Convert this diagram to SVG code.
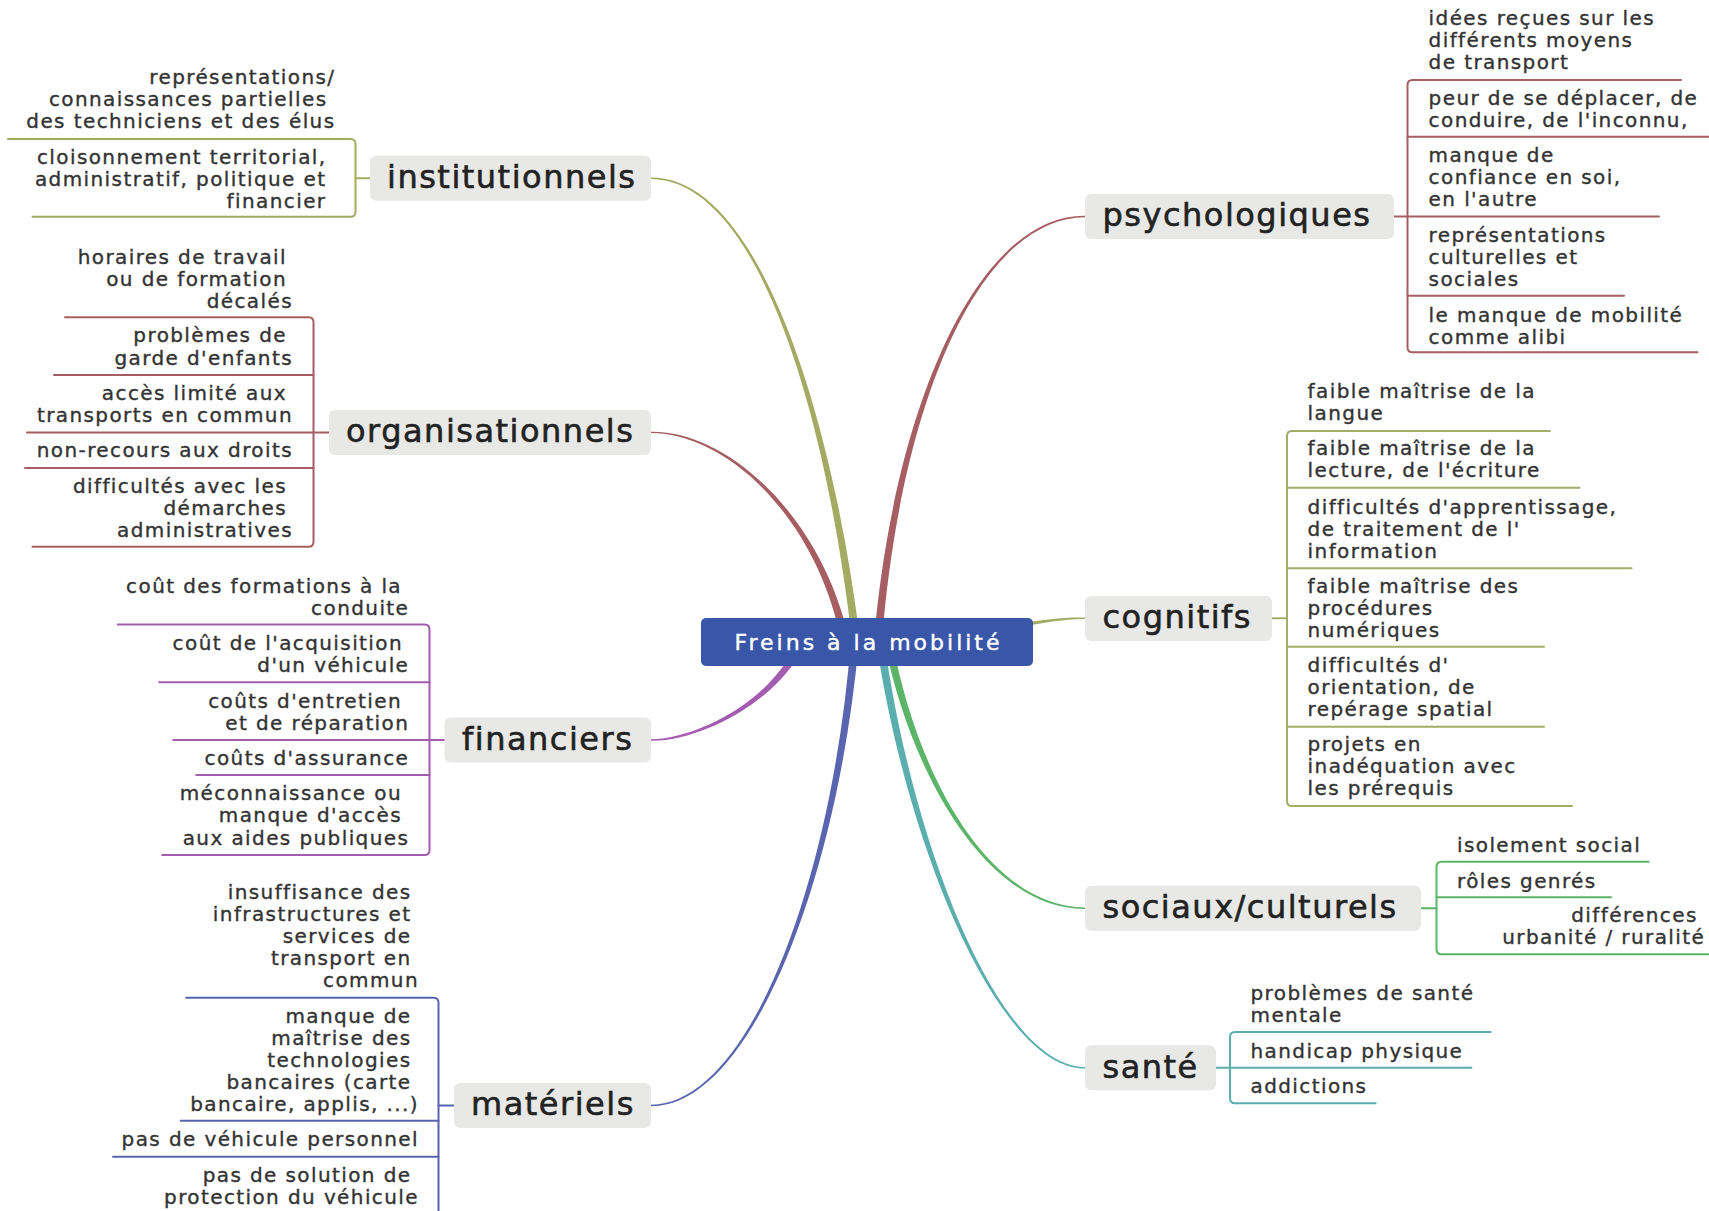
<svg xmlns="http://www.w3.org/2000/svg" width="1709" height="1211" viewBox="0 0 1709 1211">
<style>
text{font-family:"DejaVu Sans",Verdana,sans-serif;}
.s{font-size:20px;letter-spacing:1.4px;fill:#333;stroke:#333;stroke-width:0.35px;}
.e{text-anchor:end;}
.lbl{font-size:32px;letter-spacing:1.5px;fill:#222;stroke:#222;stroke-width:0.6px;}
.nb{fill:#e8e9e6;}
.br{fill:none;stroke-width:2;stroke-linecap:round;}
.olive{stroke:#a3ab63;} .red{stroke:#a65e62;} .pur{stroke:#a45cb0;} .blu{stroke:#5a65b0;}
.teal{stroke:#5aaeae;} .grn{stroke:#5cb468;} .cog{stroke:#a3ad68;}
</style>
<rect width="1709" height="1211" fill="#ffffff"/>
<g id="connectors">
  <path fill="#a3ab63" d="M860,639.5 C832.9,419.7 760,176.6 651,177.6 L651,179 C760,180 827.1,420.3 852,640.5 Z"/>
  <path fill="#a65e62" d="M848.9,639.2 C822.8,519.4 730,430.7 651,431.7 L651,433.1 C730,434.1 817.2,520.6 841.1,640.8 Z"/>
  <path fill="#a65e62" d="M882,640.3 C900.9,400.2 980,218.2 1085,217.2 L1085,215.8 C980,214.8 895.1,399.8 874,639.7 Z"/>
  <path fill="#a3ad68" d="M1020,626.8 C1045,623 1060,619.4 1085,619 L1085,617.6 C1060,617.2 1045,620 1020,623.2 Z"/>
  <path fill="#a45cb0" d="M796.4,643.3 C772.4,698.8 700,738.3 651,739.3 L651,740.7 C700,741.7 777.6,701.2 803.6,646.7 Z"/>
  <path fill="#5a65b0" d="M851,639.7 C832.1,879.8 750,1103.8 651,1104.8 L651,1106.2 C750,1107.2 837.9,880.2 859,640.3 Z"/>
  <path fill="#5aaeae" d="M876,640.6 C907.1,850.4 1000,1069.5 1085,1068.5 L1085,1067.1 C1000,1066.1 912.9,849.6 884,639.4 Z"/>
  <path fill="#5cb468" d="M884.1,640.8 C912.2,780.5 990,909.9 1085,908.9 L1085,907.5 C990,906.5 917.8,779.5 891.9,639.2 Z"/>

  <g class="br olive">
    <path d="M8,139 H350.5 Q355.5,139 355.5,144 V211.7 Q355.5,216.7 350.5,216.7 H32.5"/>
    <path d="M355.5,178.3 H370"/>
  </g>
  <g class="br red">
    <path d="M65,317.3 H308.5 Q313.5,317.3 313.5,322.3 V541.7 Q313.5,546.7 308.5,546.7 H32.5"/>
    <path d="M54,375 H313.5 M27,432.4 H329 M25,468 H313.5"/>
  </g>
  <g class="br pur">
    <path d="M117.8,624.5 H424.5 Q429.5,624.5 429.5,629.5 V850 Q429.5,855 424.5,855 H162.2"/>
    <path d="M159.2,682.3 H429.5 M173.3,740 H444.5 M196.2,775 H429.5"/>
  </g>
  <g class="br blu">
    <path d="M186.2,997.7 H433.5 Q438.5,997.7 438.5,1002.7 V1215"/>
    <path d="M180.7,1120.7 H438.5 M113,1156.7 H438.5 M438.5,1105.5 H454"/>
  </g>
  <g class="br red">
    <path d="M1681,80 H1412.5 Q1407.5,80 1407.5,85 V347.3 Q1407.5,352.3 1412.5,352.3 H1697.5"/>
    <path d="M1407.5,136.7 H1712 M1394,216.5 H1659 M1407.5,295.7 H1624"/>
  </g>
  <g class="br cog">
    <path d="M1550,431 H1292 Q1287,431 1287,436 V801 Q1287,806 1292,806 H1572"/>
    <path d="M1287,487.7 H1579.4 M1287,568.3 H1631.5 M1287,646.7 H1544 M1287,726.7 H1544 M1272,618.3 H1287"/>
  </g>
  <g class="br grn">
    <path d="M1648.6,861.7 H1441.5 Q1436.5,861.7 1436.5,866.7 V949.3 Q1436.5,954.3 1441.5,954.3 H1712"/>
    <path d="M1436.5,897.3 H1611 M1421,908.2 H1436.5"/>
  </g>
  <g class="br teal">
    <path d="M1490.5,1032 H1235 Q1230,1032 1230,1037 V1098.3 Q1230,1103.3 1235,1103.3 H1375.6"/>
    <path d="M1216,1067.8 H1471.4"/>
  </g>
</g>

<g id="central">
  <rect x="701" y="618" width="332" height="48" rx="5" fill="#3a56a8"/>
  <text x="868.5" y="650" text-anchor="middle" font-size="22" letter-spacing="3" fill="#ffffff" stroke="#ffffff" stroke-width="0.4">Freins à la mobilité</text>
</g>

<g id="institutionnels">
  <rect class="nb" x="370" y="155.8" width="281" height="45" rx="6"/>
  <text class="lbl" x="387" y="188">institutionnels</text>
</g>
<g id="organisationnels">
  <rect class="nb" x="329" y="410" width="322" height="45" rx="6"/>
  <text class="lbl" x="346" y="442">organisationnels</text>
</g>
<g id="financiers">
  <rect class="nb" x="444.5" y="717.5" width="206.5" height="45" rx="6"/>
  <text class="lbl" x="462" y="749.5">financiers</text>
</g>
<g id="materiels">
  <rect class="nb" x="454" y="1083" width="197" height="45" rx="6"/>
  <text class="lbl" x="471" y="1115">matériels</text>
</g>
<g id="psychologiques">
  <rect class="nb" x="1085" y="194" width="309" height="45" rx="6"/>
  <text class="lbl" x="1102.5" y="226">psychologiques</text>
</g>
<g id="cognitifs">
  <rect class="nb" x="1085" y="596" width="187" height="45" rx="6"/>
  <text class="lbl" x="1102.5" y="628">cognitifs</text>
</g>
<g id="sociaux">
  <rect class="nb" x="1085" y="885.7" width="336" height="45" rx="6"/>
  <text class="lbl" x="1102.5" y="918">sociaux/culturels</text>
</g>
<g id="sante">
  <rect class="nb" x="1085" y="1045.3" width="131" height="45" rx="6"/>
  <text class="lbl" x="1102.5" y="1077.5">santé</text>
</g>

<g id="inst-1" class="s e"><text x="335.5" y="84">représentations/</text><text x="327.5" y="106">connaissances partielles</text><text x="335.5" y="128">des techniciens et des élus</text></g>
<g id="inst-2" class="s e"><text x="326.5" y="164">cloisonnement territorial,</text><text x="326.5" y="186">administratif, politique et</text><text x="326.5" y="208">financier</text></g>

<g id="org-1" class="s e"><text x="287" y="263.5">horaires de travail</text><text x="287" y="285.5">ou de formation</text><text x="293" y="307.5">décalés</text></g>
<g id="org-2" class="s e"><text x="287" y="342">problèmes de</text><text x="293" y="364.5">garde d'enfants</text></g>
<g id="org-3" class="s e"><text x="287" y="400">accès limité aux</text><text x="293" y="422">transports en commun</text></g>
<g id="org-4" class="s e"><text x="293" y="457">non-recours aux droits</text></g>
<g id="org-5" class="s e"><text x="287" y="493">difficultés avec les</text><text x="287" y="515">démarches</text><text x="293" y="537">administratives</text></g>

<g id="fin-1" class="s e"><text x="402" y="592.5">coût des formations à la</text><text x="409.3" y="614.5">conduite</text></g>
<g id="fin-2" class="s e"><text x="403" y="650">coût de l'acquisition</text><text x="409.3" y="672">d'un véhicule</text></g>
<g id="fin-3" class="s e"><text x="402" y="707.5">coûts d'entretien</text><text x="409.3" y="729.5">et de réparation</text></g>
<g id="fin-4" class="s e"><text x="409.3" y="765">coûts d'assurance</text></g>
<g id="fin-5" class="s e"><text x="402" y="800">méconnaissance ou</text><text x="402" y="822.3">manque d'accès</text><text x="409.3" y="845">aux aides publiques</text></g>

<g id="mat-1" class="s e"><text x="411.5" y="899">insuffisance des</text><text x="411.5" y="921">infrastructures et</text><text x="411.5" y="943">services de</text><text x="411.5" y="965">transport en</text><text x="419" y="987">commun</text></g>
<g id="mat-2" class="s e"><text x="411.5" y="1023">manque de</text><text x="411.5" y="1045">maîtrise des</text><text x="411.5" y="1067">technologies</text><text x="411.5" y="1089">bancaires (carte</text><text x="419" y="1111">bancaire, applis, ...)</text></g>
<g id="mat-3" class="s e"><text x="419" y="1146">pas de véhicule personnel</text></g>
<g id="mat-4" class="s e"><text x="411.5" y="1181.5">pas de solution de</text><text x="419" y="1203.5">protection du véhicule</text></g>

<g id="psy-1" class="s"><text x="1428.6" y="25">idées reçues sur les</text><text x="1428.6" y="47">différents moyens</text><text x="1428.6" y="69">de transport</text></g>
<g id="psy-2" class="s"><text x="1428.6" y="105">peur de se déplacer, de</text><text x="1428.6" y="127">conduire, de l'inconnu,</text></g>
<g id="psy-3" class="s"><text x="1428.6" y="162">manque de</text><text x="1428.6" y="184">confiance en soi,</text><text x="1428.6" y="206">en l'autre</text></g>
<g id="psy-4" class="s"><text x="1428.6" y="242">représentations</text><text x="1428.6" y="264">culturelles et</text><text x="1428.6" y="286">sociales</text></g>
<g id="psy-5" class="s"><text x="1428.6" y="321.5">le manque de mobilité</text><text x="1428.6" y="343.5">comme alibi</text></g>

<g id="cog-1" class="s"><text x="1307.6" y="398">faible maîtrise de la</text><text x="1307.6" y="420">langue</text></g>
<g id="cog-2" class="s"><text x="1307.6" y="455">faible maîtrise de la</text><text x="1307.6" y="477.3">lecture, de l'écriture</text></g>
<g id="cog-3" class="s"><text x="1307.6" y="514">difficultés d'apprentissage,</text><text x="1307.6" y="536">de traitement de l'</text><text x="1307.6" y="558">information</text></g>
<g id="cog-4" class="s"><text x="1307.6" y="592.5">faible maîtrise des</text><text x="1307.6" y="614.5">procédures</text><text x="1307.6" y="636.5">numériques</text></g>
<g id="cog-5" class="s"><text x="1307.6" y="671.5">difficultés d'</text><text x="1307.6" y="693.5">orientation, de</text><text x="1307.6" y="715.5">repérage spatial</text></g>
<g id="cog-6" class="s"><text x="1307.6" y="750.5">projets en</text><text x="1307.6" y="772.5">inadéquation avec</text><text x="1307.6" y="794.5">les prérequis</text></g>

<g id="soc-1" class="s"><text x="1457" y="851.7">isolement social</text></g>
<g id="soc-2" class="s"><text x="1457" y="887.7">rôles genrés</text></g>
<g id="soc-3" class="s e"><text x="1697.8" y="921.7">différences</text><text x="1705.2" y="944">urbanité / ruralité</text></g>

<g id="san-1" class="s"><text x="1250.5" y="999.5">problèmes de santé</text><text x="1250.5" y="1021.5">mentale</text></g>
<g id="san-2" class="s"><text x="1250.5" y="1058.3">handicap physique</text></g>
<g id="san-3" class="s"><text x="1250.5" y="1093.3">addictions</text></g>
</svg>
